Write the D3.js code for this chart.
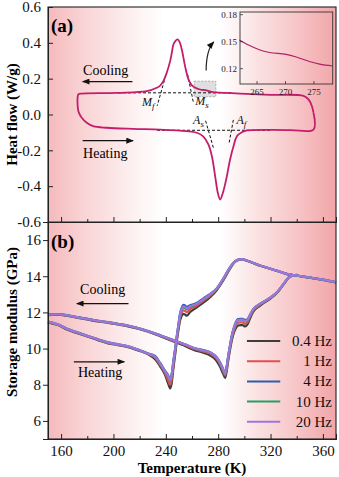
<!DOCTYPE html>
<html><head><meta charset="utf-8">
<script src="https://cdn.jsdelivr.net/npm/d3@7"></script>
<style>body{margin:0;background:#fff}svg{display:block}text{font-family:"Liberation Serif","Times New Roman",serif}</style>
</head><body><svg id="c" width="339" height="477"></svg>
<script>
// ---------- Panel (a): DSC loop (temperature K, heat flow W/g), path order ----------
const dscT  = [352.8,351.6,349,345.2,319.7,296.8,278.3,276,274.2,271.9,270.1,267.2,265.4,263.6,261.9,259.9,257.3,254.7,252.2,250.5,248.9,247.3,245.8,244.6,243.3,240.7,238.1,235.5,233.1,225.5,202.5,174.5,173.2,
               173.2,175.8,179.6,184.6,194.9,215.2,235.6,256,263.7,268.7,272.6,275.2,277.7,279.7,281.5,283.6,286.1,289.1,291.7,294.3,298.1,301.9,335,352.8,352.8];
const dscHF = [0.01,0.046,0.084,0.104,0.11,0.116,0.123,0.125,0.128,0.133,0.136,0.138,0.141,0.146,0.152,0.162,0.196,0.27,0.363,0.405,0.419,0.41,0.391,0.345,0.298,0.233,0.186,0.16,0.149,0.13,0.121,0.116,0.113,
               0.018,-0.018,-0.046,-0.065,-0.074,-0.08,-0.084,-0.093,-0.102,-0.123,-0.168,-0.233,-0.345,-0.437,-0.475,-0.437,-0.363,-0.251,-0.177,-0.121,-0.099,-0.089,-0.087,-0.084,0.01];
// inset (zoom of cooling baseline 262-278 K)
const insetT  = [261.9,263.6,265.4,267.2,270.1,271.9,274.2,276,278.3];
const insetHF = [0.152,0.146,0.141,0.138,0.136,0.133,0.128,0.125,0.123];
const insetXTicks = [265,270,275];
const insetYTicks = [0.12,0.15,0.18];
const insetYLabels = ["0.12","0.15","0.18"];

// ---------- Panel (b): storage modulus (GPa) ----------
const tCool = [150,157.6,165.3,172.9,180.6,188.2,195.9,203.5,211.2,218.8,226.5,232,235.6,239.4,242,243.3,244.5,245.8,247.2,248.4,249.7,250.9,252.2,253.4,254.7,256,258.6,263.7,268.7,273.9,279,284,289.1,293,296,298.1,301.9,312.1,324.8,332.5,342.7,350,358,370];
const cool04 = [11.45,11.30,11.03,10.84,10.65,10.47,10.29,10.19,10.08,9.90,9.68,9.40,9.02,8.55,8.02,7.80,8.10,8.90,9.70,10.40,11.05,11.55,11.82,11.92,11.88,11.82,12.02,12.28,12.54,12.84,13.24,13.78,14.42,14.80,14.92,14.94,14.86,14.58,14.30,14.12,14.00,13.92,13.83,13.66];
const cool1  = [11.47,11.32,11.05,10.86,10.67,10.49,10.31,10.21,10.10,9.92,9.70,9.48,9.10,8.65,8.20,8.00,8.30,9.08,9.85,10.55,11.20,11.72,12.00,12.12,12.08,12.02,12.18,12.38,12.64,12.92,13.29,13.83,14.46,14.81,14.92,14.94,14.86,14.58,14.30,14.12,14.00,13.92,13.83,13.66];
const cool4  = [11.50,11.35,11.08,10.89,10.70,10.52,10.34,10.24,10.13,9.95,9.73,9.58,9.22,8.78,8.50,8.30,8.60,9.35,10.05,10.72,11.38,11.95,12.28,12.42,12.38,12.30,12.40,12.52,12.78,13.02,13.34,13.88,14.50,14.83,14.93,14.95,14.87,14.59,14.31,14.13,14.01,13.93,13.84,13.67];
const cool10 = [11.48,11.33,11.06,10.87,10.68,10.50,10.32,10.22,10.11,9.93,9.71,9.52,9.15,8.72,8.40,8.20,8.50,9.25,9.96,10.65,11.30,11.85,12.15,12.28,12.24,12.17,12.30,12.46,12.72,12.98,13.32,13.86,14.48,14.82,14.92,14.94,14.86,14.58,14.30,14.12,14.00,13.92,13.83,13.66];
const cool20 = [11.49,11.34,11.07,10.88,10.69,10.51,10.33,10.23,10.12,9.94,9.72,9.55,9.18,8.75,8.45,8.25,8.55,9.30,10.00,10.68,11.33,11.90,12.20,12.34,12.30,12.22,12.34,12.48,12.74,13.00,13.33,13.87,14.49,14.82,14.93,14.95,14.87,14.59,14.31,14.13,14.01,13.93,13.84,13.67];

const tHeat = [150,157.6,165.3,172.9,180.6,188.2,195.9,203.5,211.2,218.8,226.5,235.6,247.1,255,262.4,268,273.9,278.4,281.5,283.8,285.3,286.5,287.6,289,290.4,292.2,294.3,295.3,297,298.6,300.6,302.5,304.4,306.7,312.1,318.2,325.1,329.7,335,340];
const heat04 = [11.85,11.87,11.80,11.70,11.60,11.50,11.42,11.33,11.23,11.10,10.93,10.68,10.36,10.13,9.90,9.78,9.62,9.35,8.98,8.60,8.38,8.75,9.30,9.90,10.45,10.92,11.22,11.28,11.30,11.30,11.22,11.35,11.68,12.02,12.38,12.68,13.08,13.52,13.98,14.08];
const heat1  = [11.87,11.89,11.82,11.72,11.62,11.52,11.44,11.35,11.25,11.12,10.95,10.71,10.39,10.18,9.96,9.86,9.72,9.47,9.12,8.74,8.52,8.89,9.44,10.04,10.57,11.04,11.37,11.43,11.45,11.45,11.37,11.47,11.78,12.10,12.43,12.72,13.11,13.54,13.99,14.08];
const heat4  = [11.89,11.91,11.84,11.74,11.64,11.54,11.46,11.37,11.27,11.14,10.97,10.74,10.44,10.23,10.02,9.93,9.80,9.57,9.23,8.87,8.65,9.02,9.57,10.17,10.72,11.22,11.57,11.63,11.65,11.65,11.57,11.63,11.88,12.17,12.48,12.75,13.13,13.55,14.00,14.08];
const heat10 = [11.88,11.90,11.83,11.73,11.63,11.53,11.45,11.36,11.26,11.13,10.96,10.73,10.42,10.21,10.00,9.90,9.77,9.53,9.18,8.82,8.60,8.97,9.52,10.12,10.67,11.17,11.50,11.56,11.58,11.58,11.50,11.57,11.84,12.14,12.46,12.73,13.12,13.54,13.99,14.08];
const heat20 = [11.88,11.90,11.83,11.73,11.63,11.53,11.45,11.36,11.26,11.13,10.96,10.73,10.43,10.22,10.01,9.91,9.78,9.55,9.20,8.84,8.62,8.99,9.54,10.14,10.69,11.19,11.52,11.58,11.60,11.60,11.52,11.59,11.86,12.15,12.47,12.74,13.12,13.55,13.99,14.08];

const freqLabels = ["0.4 Hz","1 Hz","4 Hz","10 Hz","20 Hz"];
const freqColors = ["#3d3d3d","#e0504e","#2a5fae","#24a065","#a273e0"];
const coolSeries = [cool04,cool1,cool4,cool10,cool20];
const heatSeries = [heat04,heat1,heat4,heat10,heat20];

const xTicks = [160,200,240,280,320,360];
const xMinor = [180,220,260,300,340];
const yATicks = [-0.6,-0.4,-0.2,0.0,0.2,0.4,0.6];
const yALabels = ["-0.6","-0.4","-0.2","0.0","0.2","0.4","0.6"];
const yBTicks = [6,8,10,12,14,16];

// ---------- layout ----------
const FONT = '"Liberation Serif","Times New Roman",serif';
const svg = d3.select("#c");
const L=48, R=336, TOP=7, MID=222, BOT=439;
const x  = d3.scaleLinear().domain([150,370]).range([L,R]);
const yA = d3.scaleLinear().domain([-0.6,0.6]).range([MID,TOP]);
const yB = d3.scaleLinear().domain([5,17]).range([BOT,MID]);

const defs = svg.append("defs");
const grad = defs.append("linearGradient").attr("id","bg").attr("x1","0").attr("x2","1").attr("y1","0").attr("y2","0");
[[0,"#f5b9bc"],[0.12,"#f9d3d4"],[0.3,"#fdf1f1"],[0.4,"#ffffff"],[0.6,"#ffffff"],[0.72,"#fbe3e3"],[0.86,"#f7c6c8"],[1,"#f2a5a8"]]
  .forEach(([o,c])=>grad.append("stop").attr("offset",o).attr("stop-color",c));
defs.append("marker").attr("id","ah").attr("viewBox","0 0 10 8").attr("refX",9).attr("refY",4)
  .attr("markerWidth",8).attr("markerHeight",6).attr("markerUnits","userSpaceOnUse").attr("orient","auto")
  .append("path").attr("d","M0,0L10,4L0,8Z").attr("fill","#111");

svg.append("rect").attr("x",L).attr("y",TOP).attr("width",R-L).attr("height",MID-TOP).attr("fill","url(#bg)");
svg.append("rect").attr("x",L).attr("y",MID).attr("width",R-L).attr("height",BOT-MID).attr("fill","url(#bg)");

// ---------- panel (a) ----------
const gA = svg.append("g");
gA.append("rect").attr("x",x(261.6)).attr("y",yA(0.186)).attr("width",x(278.2)-x(261.6)).attr("height",yA(0.099)-yA(0.186))
  .attr("fill","#d4d4d4").attr("fill-opacity",0.75).attr("stroke","#9a9a9a").attr("stroke-width",0.8).attr("stroke-dasharray","2,1.5");
const dash = [
  [[203.5,0.121],[291.4,0.121]],
  [[238.9,0.19],[233.4,0.048]],
  [[256.6,0.225],[261.2,0.062]],
  [[233.3,-0.088],[320.5,-0.088]],
  [[270.4,-0.035],[276.5,-0.19]],
  [[291.6,-0.03],[288.2,-0.165]]
];
dash.forEach(s=>gA.append("line").attr("x1",x(s[0][0])).attr("y1",yA(s[0][1])).attr("x2",x(s[1][0])).attr("y2",yA(s[1][1]))
  .attr("stroke","#111").attr("stroke-width",1).attr("stroke-dasharray","3,2"));

const dscData = dscT.map((t,i)=>[t,dscHF[i]]);
gA.append("path").attr("d",d3.line().x(d=>x(d[0])).y(d=>yA(d[1])).curve(d3.curveCatmullRom.alpha(0.5))(dscData))
  .attr("fill","none").attr("stroke","#c41d6c").attr("stroke-width",1.8).attr("stroke-linejoin","round");

gA.append("path").attr("d",`M${x(270.8)},${yA(0.245)} Q${x(270.9)},${yA(0.36)} ${x(276.6)},${yA(0.405)}`)
  .attr("fill","none").attr("stroke","#222").attr("stroke-width",1.2).attr("marker-end","url(#ah)");

function sub(g,px,py,main,s){
  const t=g.append("text").attr("x",px).attr("y",py).attr("font-size",12).attr("font-style","italic").attr("fill","#111");
  t.append("tspan").text(main);
  t.append("tspan").attr("font-size",9).attr("dy",3).text(s);
}
sub(gA,x(221.8),yA(0.045),"M","f");
sub(gA,x(262.5),yA(0.055),"M","s");
sub(gA,x(260.8),yA(-0.055),"A","s");
sub(gA,x(294),yA(-0.055),"A","f");

gA.append("text").attr("x",x(176.8)).attr("y",yA(0.222)).attr("font-size",14).text("Cooling");
gA.append("line").attr("x1",x(214.5)).attr("x2",x(176.5)).attr("y1",yA(0.184)).attr("y2",yA(0.184)).attr("stroke","#111").attr("stroke-width",1.3).attr("marker-end","url(#ah)");
gA.append("line").attr("x1",x(176.5)).attr("x2",x(215)).attr("y1",yA(-0.146)).attr("y2",yA(-0.146)).attr("stroke","#111").attr("stroke-width",1.3).attr("marker-end","url(#ah)");
gA.append("text").attr("x",x(176.8)).attr("y",yA(-0.24)).attr("font-size",14).text("Heating");

// inset
const xi = d3.scaleLinear().domain([262,278.3]).range([240,332.7]);
const yi = d3.scaleLinear().domain([0.103,0.183]).range([84,12]);
const gI = svg.append("g");
gI.append("path").attr("d",d3.line().x((t,i)=>xi(t)).y((t,i)=>yi(insetHF[i])).curve(d3.curveMonotoneX)(insetT))
  .attr("fill","none").attr("stroke","#b01f68").attr("stroke-width",1.2);
gI.append("rect").attr("x",240).attr("y",12).attr("width",332.7-240).attr("height",72).attr("fill","none").attr("stroke","#333").attr("stroke-width",0.9);
insetYTicks.forEach((v,i)=>{
  gI.append("line").attr("x1",240).attr("x2",243).attr("y1",yi(v)).attr("y2",yi(v)).attr("stroke","#333").attr("stroke-width",0.8);
  gI.append("text").attr("x",237).attr("y",yi(v)+3).attr("text-anchor","end").attr("font-size",9).attr("fill","#222").text(insetYLabels[i]);
});
insetXTicks.forEach(v=>{
  gI.append("line").attr("x1",xi(v)).attr("x2",xi(v)).attr("y1",84).attr("y2",81).attr("stroke","#333").attr("stroke-width",0.8);
  gI.append("text").attr("x",xi(v)).attr("y",95).attr("text-anchor","middle").attr("font-size",9).attr("fill","#222").text(v);
});

// axes (a)
svg.append("g").attr("transform",`translate(${L},0)`)
  .call(d3.axisLeft(yA).tickValues(yATicks).tickFormat((d,i)=>yALabels[i]).tickSize(-5).tickPadding(7));
svg.append("g").attr("transform",`translate(0,${MID})`)
  .call(d3.axisBottom(x).tickValues(xTicks).tickFormat("").tickSize(-5));
svg.append("g").attr("transform",`translate(0,${MID})`)
  .call(d3.axisBottom(x).tickValues(xMinor).tickFormat("").tickSize(-3));

// ---------- panel (b) ----------
const gB = svg.append("g");
const lineB = d3.line().curve(d3.curveMonotoneX);
for(let k=0;k<5;k++){
  gB.append("path").attr("d",lineB(tCool.map((t,i)=>[x(t),yB(coolSeries[k][i])])))
    .attr("fill","none").attr("stroke",freqColors[k]).attr("stroke-width",2.2);
  gB.append("path").attr("d",lineB(tHeat.map((t,i)=>[x(t),yB(heatSeries[k][i])])))
    .attr("fill","none").attr("stroke",freqColors[k]).attr("stroke-width",2.2);
}
gB.append("text").attr("x",x(174.5)).attr("y",yB(13.0)).attr("font-size",14).text("Cooling");
gB.append("line").attr("x1",x(211.5)).attr("x2",x(172)).attr("y1",yB(12.49)).attr("y2",yB(12.49)).attr("stroke","#111").attr("stroke-width",1.3).attr("marker-end","url(#ah)");
gB.append("line").attr("x1",x(169.8)).attr("x2",x(208.3)).attr("y1",yB(9.27)).attr("y2",yB(9.27)).attr("stroke","#111").attr("stroke-width",1.3).attr("marker-end","url(#ah)");
gB.append("text").attr("x",x(172.9)).attr("y",yB(8.43)).attr("font-size",14).text("Heating");

freqLabels.forEach((lab,i)=>{
  const yy = 341 + i*20.2;
  gB.append("line").attr("x1",x(302)).attr("x2",x(327.4)).attr("y1",yy).attr("y2",yy).attr("stroke",freqColors[i]).attr("stroke-width",2);
  gB.append("text").attr("x",332).attr("y",yy+5).attr("text-anchor","end").attr("font-size",15).attr("fill","#111").text(lab);
});

svg.append("g").attr("transform",`translate(${L},0)`)
  .call(d3.axisLeft(yB).tickValues(yBTicks).tickSize(5).tickPadding(2));
svg.append("g").attr("transform",`translate(0,${BOT})`)
  .call(d3.axisBottom(x).tickValues(xTicks).tickSize(-5).tickPadding(6));
svg.append("g").attr("transform",`translate(0,${BOT})`)
  .call(d3.axisBottom(x).tickValues(xMinor).tickFormat("").tickSize(-3));

// frames
svg.append("rect").attr("x",L).attr("y",TOP).attr("width",R-L).attr("height",BOT-TOP).attr("fill","none").attr("stroke","#222").attr("stroke-width",1.1);
svg.append("line").attr("x1",L).attr("x2",R).attr("y1",MID).attr("y2",MID).attr("stroke","#222").attr("stroke-width",1.1);

svg.selectAll(".domain").attr("stroke","#222");
svg.selectAll(".tick line").attr("stroke","#222");
svg.selectAll(".tick text").attr("font-size",15).attr("fill","#111");

svg.append("text").attr("x",L+3).attr("y",TOP+25).attr("font-size",19).attr("font-weight","bold").text("(a)");
svg.append("text").attr("x",L+3).attr("y",MID+26).attr("font-size",19).attr("font-weight","bold").text("(b)");

svg.append("text").attr("transform",`translate(17,${(TOP+MID)/2}) rotate(-90)`).attr("text-anchor","middle")
  .attr("font-size",15).attr("font-weight","bold").text("Heat flow (W/g)");
svg.append("text").attr("transform",`translate(17,322) rotate(-90)`).attr("text-anchor","middle")
  .attr("font-size",15).attr("font-weight","bold").text("Storage modulus (GPa)");
svg.append("text").attr("x",192).attr("y",473).attr("text-anchor","middle")
  .attr("font-size",15).attr("font-weight","bold").text("Temperature (K)");

// force serif everywhere (axis groups default to sans-serif)
svg.selectAll("g").attr("font-family",FONT);
svg.selectAll("text").attr("font-family",FONT).style("font-family",FONT);
</script></body></html>
